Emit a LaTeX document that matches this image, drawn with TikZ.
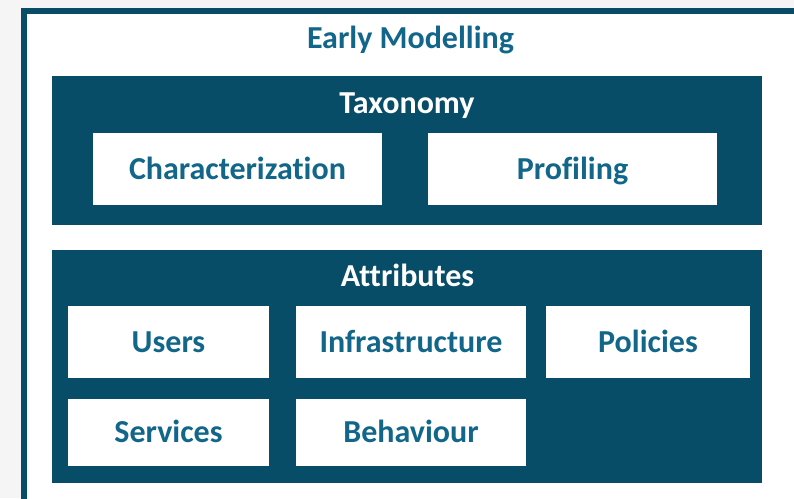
\documentclass[tikz,border=0pt]{standalone}
\usepackage{fontspec}
\setmainfont{Carlito}[Ligatures=NoCommon]
\usetikzlibrary{shapes}
\definecolor{boxteal}{RGB}{8,77,104}
\definecolor{textteal}{RGB}{17,102,138}
\definecolor{pagegray}{RGB}{245,245,245}

\begin{document}
\begin{tikzpicture}[x=1pt,y=-1pt,
group/.style={fill=boxteal,inner sep=0pt},
item/.style={fill=white,inner sep=0pt,text=textteal,text height=20pt,text depth=0pt,font=\bfseries\fontsize{32}{34}\selectfont},
heading/.style={anchor=base,inner sep=0pt,font=\bfseries\fontsize{32}{34}\selectfont}]
\useasboundingbox (0,0) rectangle (794,498);
\fill[pagegray] (0,0) rectangle (794,498);
\filldraw[fill=white,draw=boxteal,line width=6pt] (24,11) rectangle (810,520);
\node[heading,text=textteal] (early) at (410.5,48) {Early Modelling};
\node[group,minimum width=710pt,minimum height=149pt] (tax) at (407,150.5) {};
\node[heading,text=white] (taxt) at (407,113) {Taxonomy};
\node[item,minimum width=289pt,minimum height=72pt] (char) at (237.5,169) {Characterization};
\node[item,minimum width=289pt,minimum height=72pt] (prof) at (572.5,169) {Profiling};
\node[group,minimum width=710pt,minimum height=233pt] (attr) at (407,366.5) {};
\node[heading,text=white] (attrt) at (407.5,286) {Attributes};
\node[item,minimum width=201pt,minimum height=72pt] (users) at (168.5,342) {Users};
\node[item,minimum width=230pt,minimum height=72pt] (infra) at (411,342) {Infrastructure};
\node[item,minimum width=204pt,minimum height=72pt] (pol) at (648,342) {Policies};
\node[item,minimum width=201pt,minimum height=67pt] (serv) at (168.5,432.5) {Services};
\node[item,minimum width=230pt,minimum height=67pt] (behav) at (411,432.5) {Behaviour};
\end{tikzpicture}
\end{document}
